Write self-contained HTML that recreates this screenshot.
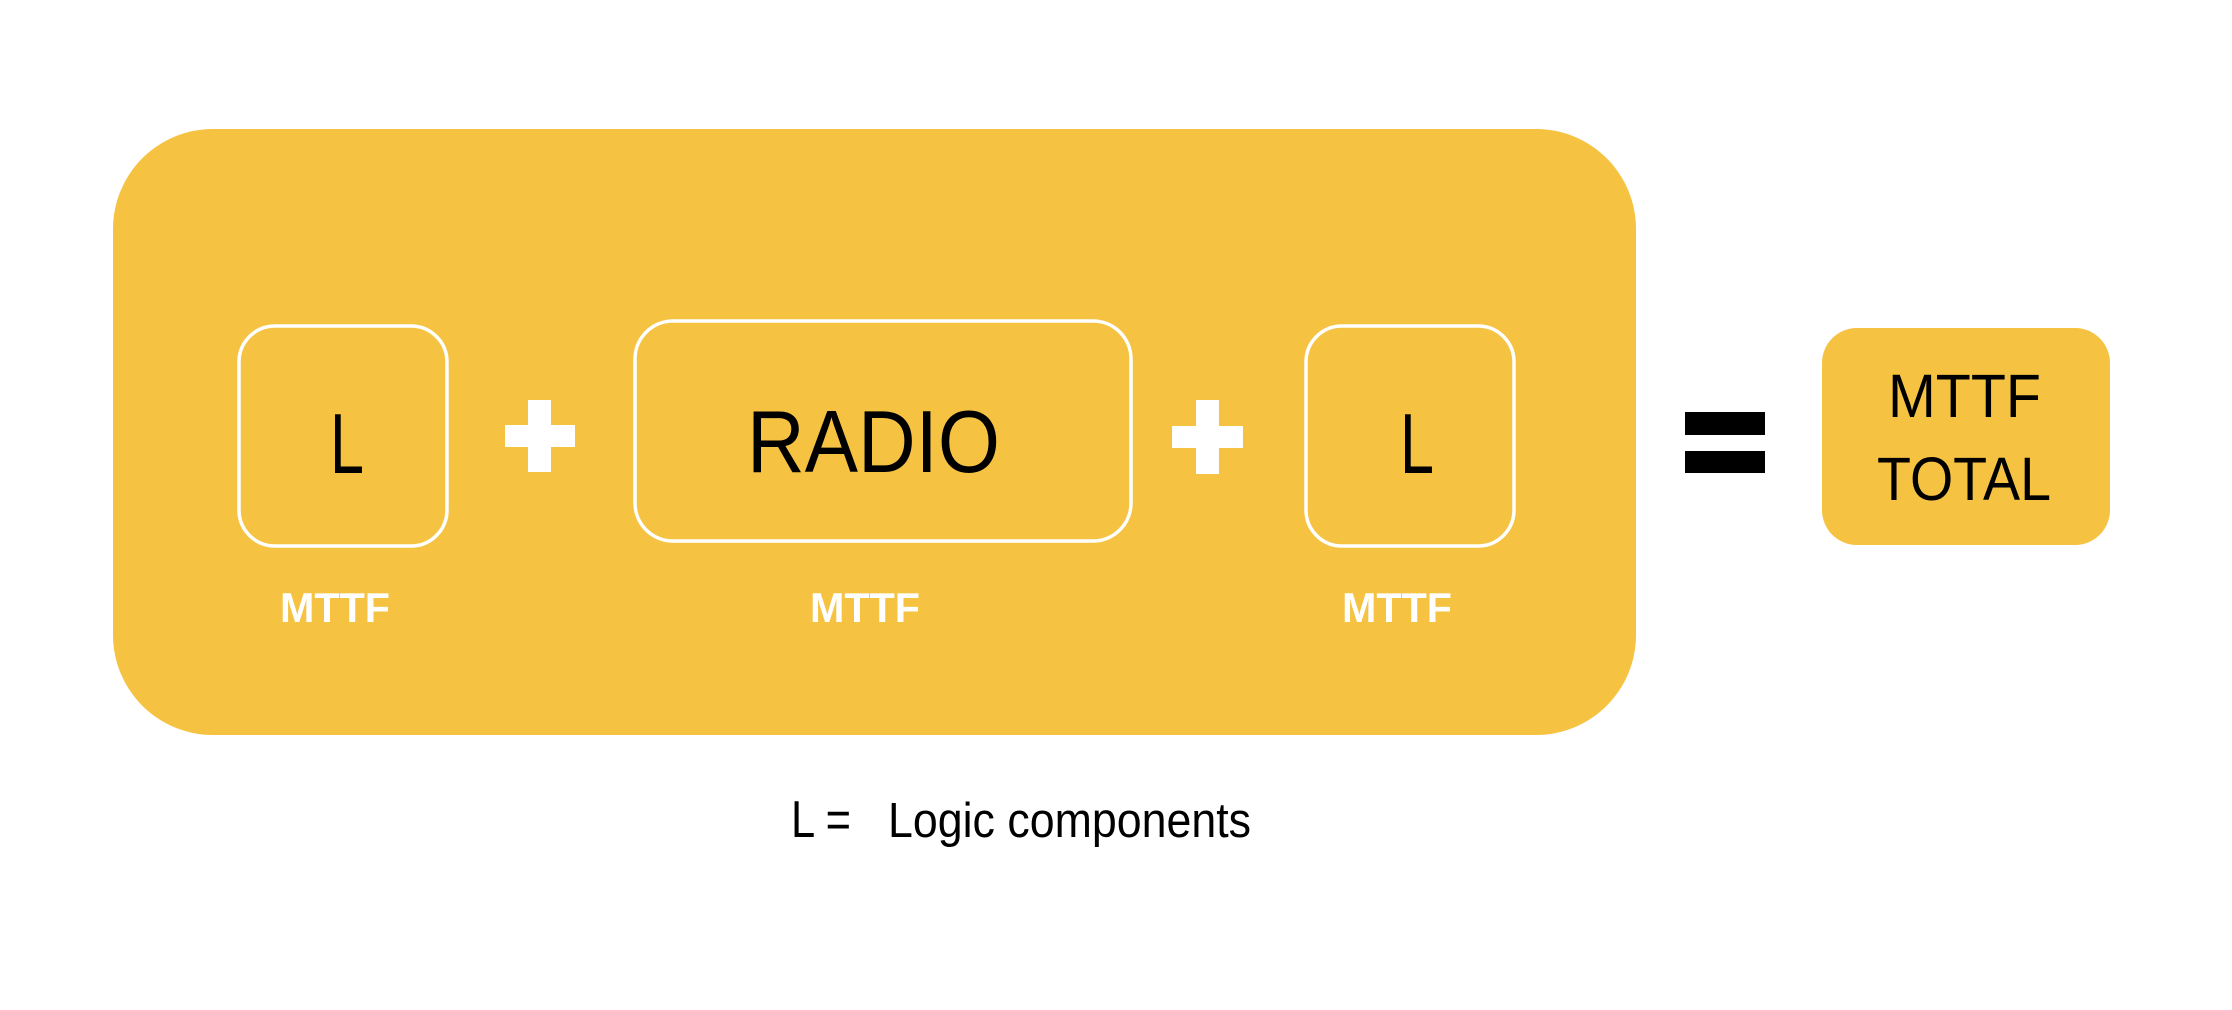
<!DOCTYPE html>
<html><head><meta charset="utf-8"><style>html,body{margin:0;padding:0;background:#fff}svg{display:block}</style></head>
<body>
<svg width="2232" height="1010" viewBox="0 0 2232 1010" xmlns="http://www.w3.org/2000/svg" font-family="Liberation Sans, sans-serif">
<rect x="0" y="0" width="2232" height="1010" fill="#fff"/>
<rect x="113" y="129" width="1523" height="606" rx="100" ry="100" fill="#F5C242"/>
<rect x="239" y="326" width="208" height="220" rx="36" fill="none" stroke="#fff" stroke-width="3.5"/>
<rect x="635" y="321" width="496" height="220" rx="38" fill="none" stroke="#fff" stroke-width="3.5"/>
<rect x="1306" y="326" width="208" height="220" rx="36" fill="none" stroke="#fff" stroke-width="3.5"/>
<text x="330" y="473" font-size="85" fill="#000" textLength="34" lengthAdjust="spacingAndGlyphs">L</text>
<text x="1400" y="473" font-size="85" fill="#000" textLength="34" lengthAdjust="spacingAndGlyphs">L</text>
<text x="747" y="472" font-size="88" fill="#000" textLength="253" lengthAdjust="spacingAndGlyphs">RADIO</text>
<g fill="#fff">
<rect x="528" y="400" width="23" height="72"/><rect x="505" y="425" width="70" height="22"/>
<rect x="1196" y="400" width="23" height="74"/><rect x="1172" y="426" width="71" height="22"/>
</g>
<g font-size="42" font-weight="bold" fill="#fff">
<text x="280" y="622" textLength="110" lengthAdjust="spacingAndGlyphs">MTTF</text>
<text x="810" y="622" textLength="110" lengthAdjust="spacingAndGlyphs">MTTF</text>
<text x="1342" y="622" textLength="110" lengthAdjust="spacingAndGlyphs">MTTF</text>
</g>
<rect x="1685" y="412" width="80" height="23" fill="#000"/>
<rect x="1685" y="451" width="80" height="22" fill="#000"/>
<rect x="1822" y="328" width="288" height="217" rx="35" fill="#F5C242"/>
<text x="1888" y="417" font-size="61" fill="#000" textLength="153" lengthAdjust="spacingAndGlyphs">MTTF</text>
<text x="1877" y="500" font-size="61" fill="#000" textLength="174" lengthAdjust="spacingAndGlyphs">TOTAL</text>
<text x="791" y="837" font-size="52" fill="#000" textLength="60" lengthAdjust="spacingAndGlyphs">L =</text>
<text x="888" y="837" font-size="49" fill="#000" textLength="363" lengthAdjust="spacingAndGlyphs">Logic components</text>
</svg>
</body></html>
